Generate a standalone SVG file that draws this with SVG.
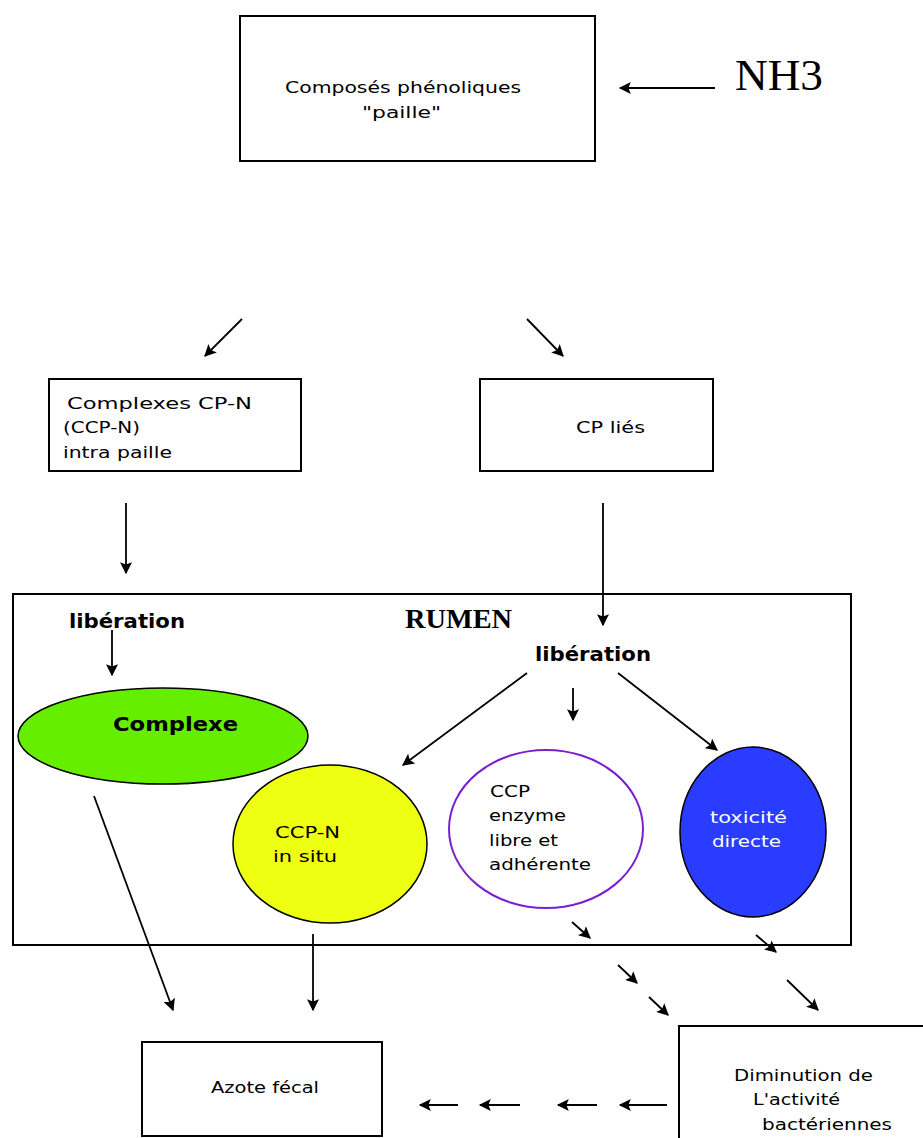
<svg xmlns="http://www.w3.org/2000/svg" width="923" height="1138" viewBox="0 0 923 1138">
<style>
.box{fill:#fff;stroke:#000;stroke-width:2}
.t{font-family:"DejaVu Sans","Liberation Sans",sans-serif;font-size:16px;fill:#000}
.b{font-family:"DejaVu Sans","Liberation Sans",sans-serif;font-size:20px;font-weight:bold;fill:#000}
.w{fill:#fff}
.c line{stroke:#000;stroke-width:1.8;marker-end:url(#ah)}
</style>
<defs>
<marker id="ah" viewBox="0 0 10 10" refX="9" refY="5" markerWidth="13" markerHeight="12" markerUnits="userSpaceOnUse" orient="auto">
<path d="M0,0 L10,5 L0,10 L2,5 z" fill="#000"/>
</marker>
</defs>
<rect width="923" height="1138" fill="#fff"/>

<g id="rumen">
<rect class="box" x="13" y="594" width="838" height="351"/>
<text x="405" y="628" font-family="Liberation Serif,serif" font-weight="bold" font-size="28" textLength="107" lengthAdjust="spacingAndGlyphs">RUMEN</text>
</g>

<g id="n-composes">
<rect class="box" x="240" y="16" width="355" height="145"/>
<text class="t" x="285" y="93" textLength="236" lengthAdjust="spacingAndGlyphs">Composés phénoliques</text>
<text class="t" x="362" y="118" textLength="79" lengthAdjust="spacingAndGlyphs">"paille"</text>
</g>

<g id="n-nh3">
<text x="735" y="90" font-family="Liberation Serif,serif" font-size="44" textLength="88" lengthAdjust="spacingAndGlyphs">NH3</text>
</g>

<g id="n-ccpn-intra">
<rect class="box" x="49" y="379" width="252" height="92"/>
<text class="t" x="67" y="409" textLength="185" lengthAdjust="spacingAndGlyphs">Complexes CP-N</text>
<text class="t" x="63" y="433" textLength="77" lengthAdjust="spacingAndGlyphs">(CCP-N)</text>
<text class="t" x="63" y="458" textLength="109" lengthAdjust="spacingAndGlyphs">intra paille</text>
</g>

<g id="n-cpl">
<rect class="box" x="480" y="379" width="233" height="92"/>
<text class="t" x="576" y="433" textLength="69" lengthAdjust="spacingAndGlyphs">CP liés</text>
</g>

<g id="n-lib1">
<text class="b" x="69" y="628" textLength="116" lengthAdjust="spacingAndGlyphs">libération</text>
</g>
<g id="n-lib2">
<text class="b" x="535" y="661" textLength="116" lengthAdjust="spacingAndGlyphs">libération</text>
</g>

<g id="n-complexe">
<ellipse cx="163" cy="736" rx="145" ry="48" fill="#66ee00" stroke="#000" stroke-width="1.5"/>
<text class="b" x="113" y="731" textLength="125" lengthAdjust="spacingAndGlyphs">Complexe</text>
</g>

<g id="n-insitu">
<ellipse cx="330" cy="844" rx="97" ry="79" fill="#eeff11" stroke="#000" stroke-width="1.5"/>
<text class="t" x="275" y="838" textLength="65" lengthAdjust="spacingAndGlyphs">CCP-N</text>
<text class="t" x="273" y="862" textLength="64" lengthAdjust="spacingAndGlyphs">in situ</text>
</g>

<g id="n-enzyme">
<ellipse cx="546" cy="829" rx="97" ry="79" fill="#fff" stroke="#7a1fd0" stroke-width="2"/>
<text class="t" x="490" y="797" textLength="40" lengthAdjust="spacingAndGlyphs">CCP</text>
<text class="t" x="489" y="821" textLength="77" lengthAdjust="spacingAndGlyphs">enzyme</text>
<text class="t" x="489" y="846" textLength="69" lengthAdjust="spacingAndGlyphs">libre et</text>
<text class="t" x="489" y="870" textLength="102" lengthAdjust="spacingAndGlyphs">adhérente</text>
</g>

<g id="n-toxicite">
<ellipse cx="753" cy="832" rx="73" ry="85" fill="#2a3cff" stroke="#000" stroke-width="1.5"/>
<text class="t w" x="710" y="823" textLength="77" lengthAdjust="spacingAndGlyphs">toxicité</text>
<text class="t w" x="712" y="847" textLength="69" lengthAdjust="spacingAndGlyphs">directe</text>
</g>

<g id="n-azote">
<rect class="box" x="142" y="1042" width="240" height="94"/>
<text class="t" x="211" y="1093" textLength="108" lengthAdjust="spacingAndGlyphs">Azote fécal</text>
</g>

<g id="n-diminution">
<rect class="box" x="679" y="1026" width="260" height="130"/>
<text class="t" x="734" y="1081" textLength="139" lengthAdjust="spacingAndGlyphs">Diminution de</text>
<text class="t" x="753" y="1105" textLength="87" lengthAdjust="spacingAndGlyphs">L'activité</text>
<text class="t" x="762" y="1130" textLength="130" lengthAdjust="spacingAndGlyphs">bactériennes</text>
</g>

<g id="connectors" class="c">
<line x1="715" y1="88" x2="620" y2="88"/>
<line x1="242" y1="319" x2="205" y2="356"/>
<line x1="527" y1="319" x2="563" y2="356"/>
<line x1="126" y1="503" x2="126" y2="573"/>
<line x1="603" y1="503" x2="603" y2="625"/>
<line x1="112" y1="630" x2="112" y2="675"/>
<line x1="527" y1="673" x2="403" y2="765"/>
<line x1="573" y1="688" x2="573" y2="720"/>
<line x1="618" y1="673" x2="717" y2="750"/>
<line x1="94" y1="796" x2="173" y2="1010"/>
<line x1="313" y1="934" x2="313" y2="1010"/>
<line x1="572" y1="922" x2="590" y2="938"/>
<line x1="756" y1="935" x2="776" y2="952"/>
<line x1="618" y1="965" x2="637" y2="983"/>
<line x1="649" y1="997" x2="668" y2="1015"/>
<line x1="787" y1="980" x2="818" y2="1010"/>
<line x1="667" y1="1105" x2="620" y2="1105"/>
<line x1="597" y1="1105" x2="558" y2="1105"/>
<line x1="520" y1="1105" x2="480" y2="1105"/>
<line x1="458" y1="1105" x2="420" y2="1105"/>
</g>
</svg>
